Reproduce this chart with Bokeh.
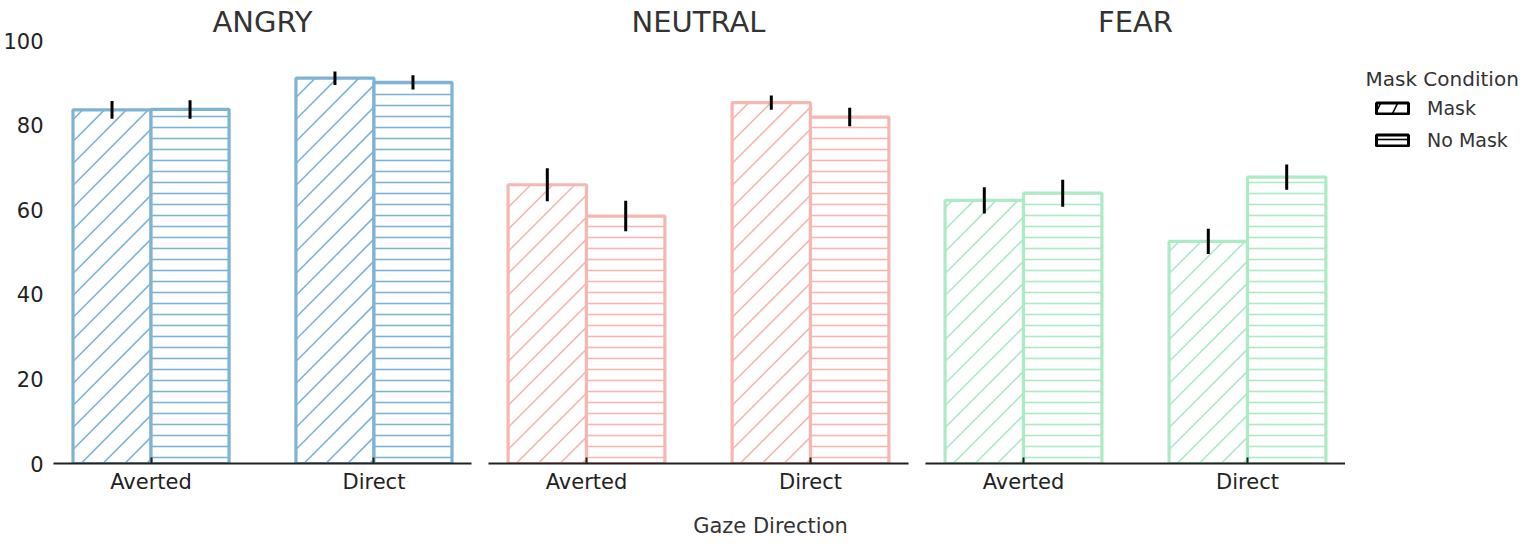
from bokeh.plotting import figure
from bokeh.layouts import row, column
from bokeh.models import Range1d, FixedTicker, Label, Legend, LegendItem, ColumnDataSource
from bokeh.embed import file_html
from bokeh.resources import INLINE

# ---- data ----
emotions = ["ANGRY", "NEUTRAL", "FEAR"]
gaze = ["Averted", "Direct"]
mask_conditions = ["Mask", "No Mask"]
x_title = "Gaze Direction"
legend_title = "Mask Condition"

angry_mask = [83.6, 91.1]
angry_nomask = [83.7, 90.1]
angry_mask_err = [2.1, 1.6]
angry_nomask_err = [2.2, 1.7]

neutral_mask = [65.9, 85.3]
neutral_nomask = [58.5, 81.9]
neutral_mask_err = [3.9, 1.7]
neutral_nomask_err = [3.6, 2.2]

fear_mask = [62.2, 52.5]
fear_nomask = [63.9, 67.7]
fear_mask_err = [3.1, 3.0]
fear_nomask_err = [3.2, 3.0]

y_ticks = [0, 20, 40, 60, 80, 100]
colors = ["#7FB3D5", "#F5B7B1", "#ABEBC6"]

panels = [
    (angry_mask, angry_nomask, angry_mask_err, angry_nomask_err),
    (neutral_mask, neutral_nomask, neutral_mask_err, neutral_nomask_err),
    (fear_mask, fear_nomask, fear_mask_err, fear_nomask_err),
]

FONT = "DejaVu Sans"
BAR_W = 0.35
OFF = 0.175
X0, X1 = -0.4375, 1.4375
ROW_H = 499
TOP_B, BOT_B = 32, 36
FRAME_W = 420.0
FRAME_H = 423.0
KX = FRAME_W / (X1 - X0)   # px per x unit
KY = FRAME_H / 100.0       # px per y unit
STEP = 22.0                # diagonal hatch spacing (px, horizontal)


def diag_hatch(xcs, tops):
    """45-degree hatch segments inside each bar, derived from the bar geometry."""
    x0s, y0s, x1s, y1s = [], [], [], []
    for xc, top in zip(xcs, tops):
        xl = xc - BAR_W / 2
        W = BAR_W * KX
        H = top * KY
        j = -int(H // STEP) - 1
        while j * STEP < W:
            c = j * STEP + 8
            a = max(c, 0.0)
            b = min(W, H + c)
            if b - a > 0.5:
                x0s.append(xl + a / KX); y0s.append((a - c) / KY)
                x1s.append(xl + b / KX); y1s.append((b - c) / KY)
            j += 1
    return dict(x0=x0s, y0=y0s, x1=x1s, y1=y1s)


widths = [479, 437, 429]
borders_left = [43, 9, 9]
borders_right = [8, 8, 0]

figs = []
for i, (emo, vals) in enumerate(zip(emotions, panels)):
    p = figure(width=widths[i], height=ROW_H, output_backend="svg", toolbar_location=None,
               x_range=Range1d(X0, X1), y_range=Range1d(0, 100),
               y_axis_location="left" if i == 0 else None,
               min_border_left=borders_left[i], min_border_right=borders_right[i],
               min_border_top=0, min_border_bottom=BOT_B)
    p.title.text = emo
    p.title.align = "center"
    p.title.text_font = FONT
    p.title.text_font_size = "29px"
    p.title.text_font_style = "normal"
    p.title.text_color = "#333333"
    p.title.standoff = 4
    p.outline_line_color = None
    p.grid.visible = False
    p.background_fill_color = "white"

    xs = list(range(len(gaze)))
    for k, cond in enumerate(mask_conditions):
        tops = vals[k]
        errs = vals[2 + k]
        xpos = [x + (-OFF if k == 0 else OFF) for x in xs]
        src = ColumnDataSource(dict(x=xpos, top=tops,
                                    lo=[t - e for t, e in zip(tops, errs)],
                                    hi=[t + e for t, e in zip(tops, errs)]))
        if cond == "Mask":
            p.vbar(x="x", top="top", bottom=0, width=BAR_W, source=src,
                   fill_color="white", line_color=None)
            p.segment(x0="x0", y0="y0", x1="x1", y1="y1",
                      source=ColumnDataSource(diag_hatch(xpos, tops)),
                      line_color=colors[i], line_width=1.6)
            p.vbar(x="x", top="top", bottom=0, width=BAR_W, source=src,
                   fill_color=None, line_color=colors[i], line_width=3.2)
        else:
            p.vbar(x="x", top="top", bottom=0, width=BAR_W, source=src,
                   fill_color="white", line_color=colors[i], line_width=3.2,
                   hatch_pattern="-", hatch_scale=11, hatch_color=colors[i], hatch_weight=1.6)
        p.segment(x0="x", x1="x", y0="lo", y1="hi", source=src, line_color="black", line_width=3)

    ax = p.xaxis[0]
    ax.ticker = FixedTicker(ticks=xs)
    ax.major_label_overrides = {x: g for x, g in zip(xs, gaze)}
    ax.major_label_text_font = FONT
    ax.major_label_text_font_size = "21px"
    ax.major_label_text_color = "#222222"
    ax.major_label_standoff = 6
    ax.axis_line_width = 2
    ax.axis_line_color = "#222222"
    ax.major_tick_in = 6
    ax.major_tick_out = 0
    ax.major_tick_line_width = 2
    ax.major_tick_line_color = "#222222"
    ax.minor_tick_line_color = None

    if i == 0:
        ya = p.yaxis[0]
        ya.ticker = FixedTicker(ticks=y_ticks)
        ya.axis_line_color = None
        ya.major_tick_line_color = None
        ya.minor_tick_line_color = None
        ya.major_label_text_font = FONT
        ya.major_label_text_font_size = "21px"
        ya.major_label_text_color = "#222222"
        ya.major_label_standoff = 4
    figs.append(p)


def blank_fig(w, h, top=0, bottom=0):
    f = figure(width=w, height=h, output_backend="svg", toolbar_location=None,
               x_range=Range1d(0, 1), y_range=Range1d(0, 1),
               x_axis_location=None, y_axis_location=None,
               min_border_left=0, min_border_right=0, min_border_top=top, min_border_bottom=bottom)
    f.outline_line_color = None
    f.grid.visible = False
    return f


# legend panel
pl = blank_fig(182, ROW_H, TOP_B, BOT_B)
items = []
for cond in mask_conditions:
    if cond == "Mask":
        hp = dict(hatch_pattern="/", hatch_scale=34, hatch_color="black", hatch_weight=1.6)
    else:
        hp = dict(hatch_pattern="-", hatch_scale=11, hatch_color="black", hatch_weight=1.6)
    r = pl.vbar(x=[0.5], top=[float("nan")], width=0.1, fill_color="white",
                line_color="black", line_width=3, **hp)
    items.append(LegendItem(label=cond, renderers=[r]))
leg = Legend(items=items, location=(27, 312), padding=0, margin=0, spacing=10,
             glyph_width=40, glyph_height=14, label_standoff=15, label_height=20,
             label_text_font=FONT, label_text_font_size="19px", label_text_color="#333333",
             background_fill_alpha=0, border_line_alpha=0)
pl.add_layout(leg, "center")
pl.add_layout(Label(x=20, y=385, x_units="screen", y_units="screen", text=legend_title,
                    text_align="left", text_baseline="middle", text_font=FONT,
                    text_font_size="20px", text_color="#333333"))

# shared x-axis title strip
pb = blank_fig(1519, 37)
pb.add_layout(Label(x=770, y=11, x_units="screen", y_units="screen", text=x_title,
                    text_align="center", text_baseline="middle", text_font=FONT,
                    text_font_size="21px", text_color="#333333"))

layout = column(row(*figs, pl), pb)
open("out.html", "w").write(file_html(layout, INLINE))
